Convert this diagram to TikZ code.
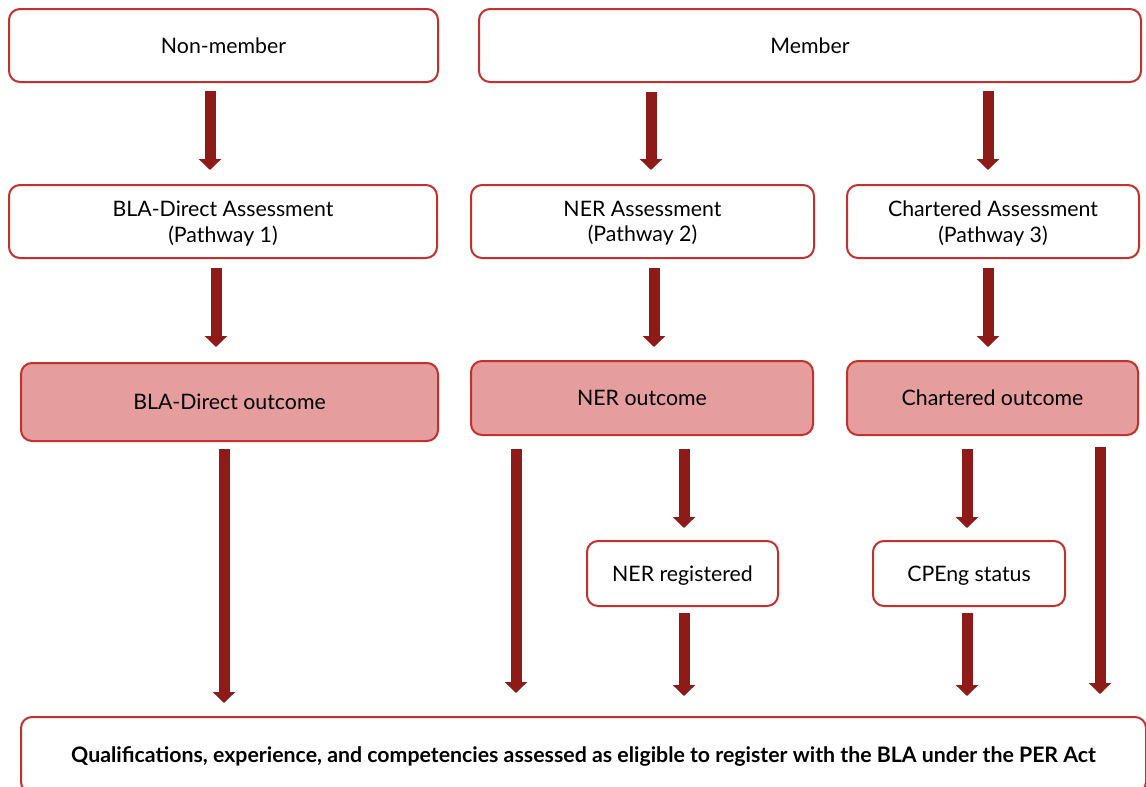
\documentclass[tikz,border=0pt]{standalone}
\usepackage{fontspec}
\setmainfont{Lato}
\usetikzlibrary{arrows.meta}
\definecolor{bordred}{HTML}{C4302C}
\definecolor{arrred}{HTML}{8E1B17}
\definecolor{pinkfill}{HTML}{E59D9D}
\tikzset{
  box/.style={draw=bordred, line width=2pt, rounded corners=11pt, fill=white, align=center,
    inner sep=0pt, outer sep=0pt, text depth=0pt, font=\fontsize{21.3}{25.5}\selectfont, text=black},
  outbox/.style={box, fill=pinkfill},
  arr/.style={draw=arrred, line width=11pt, -{Triangle[width=22pt,length=11pt]}, color=arrred},
}
\begin{document}
\begin{tikzpicture}[x=1pt,y=-1pt]
\useasboundingbox (0,0) rectangle (1146,787);
\node[box, minimum width=429pt, minimum height=73pt] (nonmem) at (223.5,45.5) {Non-member};
\node[box, minimum width=662pt, minimum height=73pt] (member) at (810,45.5) {Member};
\node[box, minimum width=428pt, minimum height=73pt] (blaA) at (223,221.5) {BLA-Direct Assessment\\(Pathway 1)};
\node[box, minimum width=343pt, minimum height=73pt] (nerA) at (642.5,221.5) {NER Assessment\\(Pathway 2)};
\node[box, minimum width=292pt, minimum height=73pt] (chA) at (993,221.5) {Chartered Assessment\\(Pathway 3)};
\node[outbox, minimum width=417pt, minimum height=78pt] (blaO) at (229.5,402) {BLA-Direct outcome};
\node[outbox, minimum width=342pt, minimum height=74pt] (nerO) at (642,398) {NER outcome};
\node[outbox, minimum width=291pt, minimum height=74pt] (chO) at (992.5,398) {Chartered outcome};
\node[box, minimum width=191pt, minimum height=65pt] (nerR) at (682.5,573.5) {NER registered};
\node[box, minimum width=192pt, minimum height=65pt] (cpe) at (969,573.5) {CPEng status};
\node[box, minimum width=1125pt, minimum height=76pt, font=\fontsize{21.3}{25.5}\selectfont\bfseries] (final) at (583.5,755) {Qualifications, experience, and competencies assessed as eligible to register with the BLA under the PER Act};
\draw[arr, shorten <=9pt, shorten >=15pt] (nonmem.south -| 210,0) -- (blaA.north -| 210,0);
\draw[arr, shorten <=10pt, shorten >=15pt] (member.south -| 651,0) -- (nerA.north -| 651,0);
\draw[arr, shorten <=9pt, shorten >=15pt] (member.south -| 988,0) -- (chA.north -| 988,0);
\draw[arr, shorten <=10pt, shorten >=16pt] (blaA.south -| 216,0) -- (blaO.north -| 216,0);
\draw[arr, shorten <=10pt, shorten >=14pt] (nerA.south -| 654,0) -- (nerO.north -| 654,0);
\draw[arr, shorten <=10pt, shorten >=14pt] (chA.south -| 988,0) -- (chO.north -| 988,0);
\draw[arr, shorten <=8pt, shorten >=14pt] (blaO.south -| 224,0) -- (final.north -| 224,0);
\draw[arr, shorten <=14pt, shorten >=24pt] (nerO.south -| 516,0) -- (final.north -| 516,0);
\draw[arr, shorten <=14pt, shorten >=13pt] (nerO.south -| 684,0) -- (nerR.north -| 684,0);
\draw[arr, shorten <=14pt, shorten >=13pt] (chO.south -| 967,0) -- (cpe.north -| 967,0);
\draw[arr, shorten <=12pt, shorten >=23pt] (chO.south -| 1100,0) -- (final.north -| 1100,0);
\draw[arr, shorten <=7pt, shorten >=21pt] (nerR.south -| 684,0) -- (final.north -| 684,0);
\draw[arr, shorten <=7pt, shorten >=21pt] (cpe.south -| 967,0) -- (final.north -| 967,0);
\end{tikzpicture}
\end{document}
